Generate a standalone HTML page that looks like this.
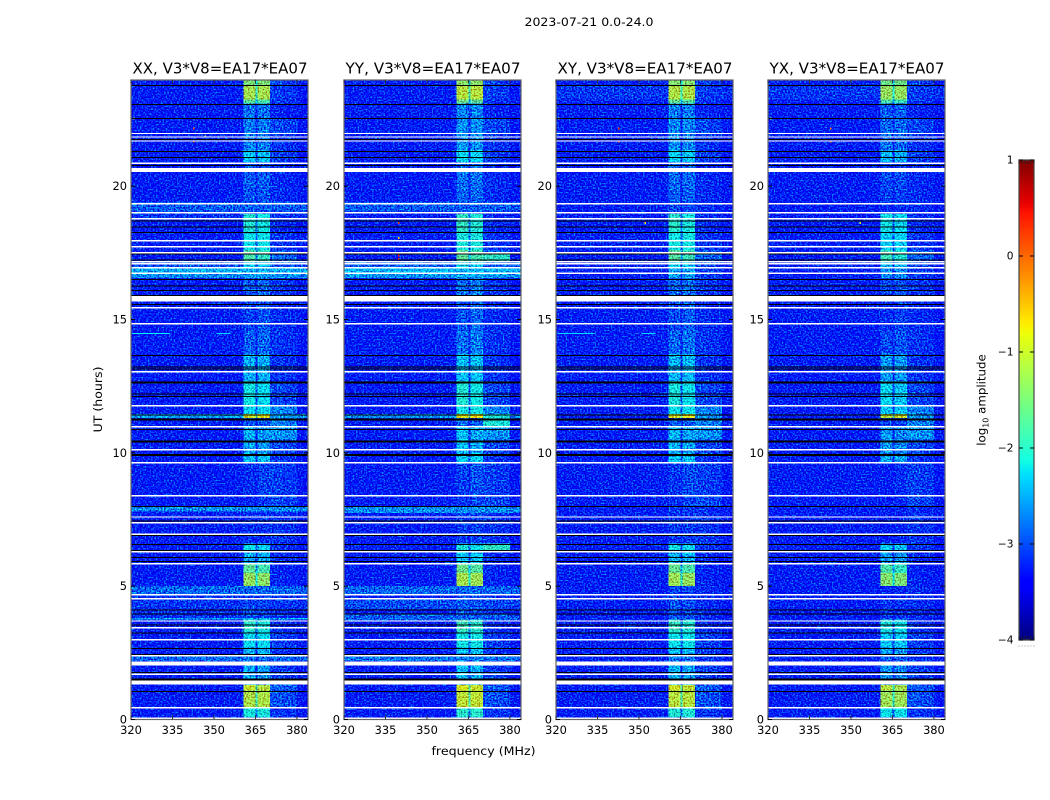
<!DOCTYPE html>
<html>
<head>
<meta charset="utf-8">
<title>2023-07-21 0.0-24.0</title>
<style>
html,body{margin:0;padding:0;background:#fff;width:1050px;height:800px;overflow:hidden}
svg{display:block}
text{font-family:"DejaVu Sans","Liberation Sans",sans-serif;fill:#000}
</style>
</head>
<body>
<svg id="figure" xmlns="http://www.w3.org/2000/svg" width="1050" height="800" viewBox="0 0 1050 800">
<defs>
<filter id="grain0" x="0" y="0" width="100%" height="100%" color-interpolation-filters="sRGB"><feTurbulence type="fractalNoise" baseFrequency="0.62 0.66" numOctaves="1" seed="3" result="n"/><feColorMatrix in="n" type="matrix" values="0.4 0 0 0 0.25  2.2 0 0 0 -0.68  0.9 0 0 0 0.05  0 0 0 0 1" result="m"/><feComposite in="SourceGraphic" in2="m" operator="arithmetic" k1="0" k2="1" k3="1" k4="-0.5"/></filter>
<filter id="grain1" x="0" y="0" width="100%" height="100%" color-interpolation-filters="sRGB"><feTurbulence type="fractalNoise" baseFrequency="0.62 0.66" numOctaves="1" seed="11" result="n"/><feColorMatrix in="n" type="matrix" values="0.4 0 0 0 0.25  2.2 0 0 0 -0.68  0.9 0 0 0 0.05  0 0 0 0 1" result="m"/><feComposite in="SourceGraphic" in2="m" operator="arithmetic" k1="0" k2="1" k3="1" k4="-0.5"/></filter>
<filter id="grain2" x="0" y="0" width="100%" height="100%" color-interpolation-filters="sRGB"><feTurbulence type="fractalNoise" baseFrequency="0.62 0.66" numOctaves="1" seed="23" result="n"/><feColorMatrix in="n" type="matrix" values="0.4 0 0 0 0.25  2.2 0 0 0 -0.68  0.9 0 0 0 0.05  0 0 0 0 1" result="m"/><feComposite in="SourceGraphic" in2="m" operator="arithmetic" k1="0" k2="1" k3="1" k4="-0.5"/></filter>
<filter id="grain3" x="0" y="0" width="100%" height="100%" color-interpolation-filters="sRGB"><feTurbulence type="fractalNoise" baseFrequency="0.62 0.66" numOctaves="1" seed="37" result="n"/><feColorMatrix in="n" type="matrix" values="0.4 0 0 0 0.25  2.2 0 0 0 -0.68  0.9 0 0 0 0.05  0 0 0 0 1" result="m"/><feComposite in="SourceGraphic" in2="m" operator="arithmetic" k1="0" k2="1" k3="1" k4="-0.5"/></filter>
</defs>
<text x="589" y="26" text-anchor="middle" font-size="11.8" textLength="129" lengthAdjust="spacingAndGlyphs">2023-07-21 0.0-24.0</text>
<text x="483.5" y="755" text-anchor="middle" font-size="11.8" textLength="104" lengthAdjust="spacingAndGlyphs">frequency (MHz)</text>
<text transform="translate(102,399.5) rotate(-90)" text-anchor="middle" font-size="11.8" textLength="66" lengthAdjust="spacingAndGlyphs">UT (hours)</text>
<text transform="translate(985.5,400) rotate(-90)" text-anchor="middle" font-size="11.8">log<tspan font-size="8" dy="3">10</tspan><tspan dy="-3"> amplitude</tspan></text>
</svg>
<script>
// Frequency columns of the heatmap (MHz)
const freqEdges = [320, 360.6, 365, 365.7, 370.2, 375, 380, 384];
// Time segments, hours, top to bottom
const hourEdges = [24,23.81,23.25,23.1,22.57,22.01,21.33,20.88,20.54,19.87,19.38,19.04,18.97,18.29,17.62,17.17,16.94,16.75,16.57,15.89,15.67,14.62,13.68,12.7,11.8,11.46,11.31,11.01,10.49,9.96,9.66,8.42,8.01,7.82,6.59,6.28,5.87,5.5,5.01,4.71,4.56,4.18,3.73,3.28,2.68,2.42,2.2,2.05,1.48,1.29,1.11,0.47,0.09,0];
// log10 amplitude of the RFI bands, one value per time segment
const rfiLow = [-1.4,-1.15,-1.6,-2.7,-2.65,-2.6,-2.25,-2.85,-2.8,-2.85,-2.95,-2.95,-1.95,-2.1,-1.7,-2.2,-2.5,-2.5,-2.8,-2.8,-2.95,-2.8,-2.4,-2.05,-2.15,-0.9,-2.85,-2.4,-2.4,-2.3,-3.05,-3.1,-3.05,-3.05,-2.1,-2.4,-1.6,-1.25,-3,-3,-2.9,-2.9,-1.9,-2.15,-2.35,-2.7,-2.7,-2.4,-2.4,-0.95,-1.1,-2,-2.5];
const rfiHigh = [-1.4,-1.15,-1.7,-2.7,-2.65,-2.65,-2.3,-2.85,-2.8,-2.85,-2.95,-2.95,-2.05,-2.1,-1.85,-2.3,-2.5,-2.5,-2.75,-2.75,-2.85,-2.75,-2.4,-2.15,-2.15,-0.8,-2.85,-2.5,-2.5,-2.3,-2.95,-3,-3.05,-3.05,-2.2,-2.4,-1.75,-1.3,-3,-3,-2.95,-2.95,-2,-2.15,-2.4,-2.75,-2.75,-2.5,-2.5,-1.05,-1.1,-2,-2.5];
const rfiOuter = [-3,-3,-3.05,-3.15,-2.95,-3.05,-3,-3.1,-3.1,-3.1,-3.1,-3.1,-3.1,-3.05,-2.8,-3,-3,-3,-3.05,-3.05,-3.1,-3.05,-3.05,-2.95,-2.65,-2.55,-2.65,-2.55,-2.95,-3.05,-3,-2.95,-3.1,-3.05,-3.05,-3.1,-3.15,-3.15,-3.1,-3.1,-3.1,-3.1,-3.1,-3,-3.05,-3.05,-3.05,-3,-3,-2.85,-2.9,-3.05,-3.15];
// Per-panel names and level offset of the RFI bands
const panelNames = ["XX", "YY", "XY", "YX"];
const panelRfiOffset = [-0.05, 0.05, 0, -0.15];
const backgroundLevel = -3.2;
// Row bands of raised background: [hour from, hour to, log10 amplitude]
const xxRowBands = [[19.38,19.04,-2.85],[19.04,18.82,-3.05],[17.17,16.94,-2.9],[16.94,16.75,-2.45],[16.75,16.57,-2.6],[11.46,11.31,-2.5],[8.01,7.82,-2.6],[5.01,4.71,-2.8],[4.71,4.18,-3.05],[4.18,3.73,-3.1],[3.79,3.73,-2.45],[2.42,2.2,-2.8]];
const yyRowBands = [[19.38,19.04,-2.85],[17.17,16.94,-2.85],[16.94,16.75,-2.4],[16.75,16.57,-2.55],[11.46,11.31,-2.6],[8.01,7.75,-2.6],[5.01,4.71,-2.8],[4.56,4.13,-2.95],[3.97,3.72,-2.85],[2.42,2.2,-2.75]];
const xyRowBands = [[23.8,23.25,-3.05]];
const yxRowBands = [[23.8,23.25,-3.05]];
// YY: stronger outer band periods [hour from, hour to, log10 amplitude]
const yyOuterBands = [[17.5,17.17,-1.9],[11.46,11.01,-2],[6.59,6.36,-1.9]];
// Isolated bright samples: [panel index, MHz, hour, log10 amplitude]
const spikes = [[0,342.4,22.2,0.1],[0,342.4,21.72,0.2],[0,346.5,21.9,-1.2],[0,320.8,22.58,-1.3],[1,339.5,18.66,0.3],[1,339.5,18.1,-0.6],[1,339.5,17.43,0.4],[1,339.5,17.3,0.3],[1,320.8,22.58,-1.3],[2,342.4,22.2,0.3],[2,342.4,21.72,0.3],[2,320.8,22.58,-1.3],[2,352,18.65,-0.6],[3,342.4,22.2,-0.2],[3,342.4,21.72,-0.2],[3,320.8,22.58,-1.3],[3,353,18.65,-1.0]];
// Short bright streaks: [panel index, MHz from, MHz to, hour, log10 amplitude]
const streaks = [[0,320.5,334,14.5,-2.2],[0,351,356,14.5,-2.3],[2,320.5,334,14.5,-2.3],[2,351,356,14.5,-2.3]];
// Flagged rows
const whiteRows = [22,21.87,21.72,20.89,19.37,18.81,17.98,17.76,17.53,17.19,17.12,16.97,15.88,15.47,14.87,13.07,11.79,11,10.14,9.65,8.41,7.62,7.4,6.97,6.31,5.86,4.7,4.55,3.72,3.46,3.01,2.41,1.72,0.46];
const whiteBlocks = [[20.69,20.54],[19.04,18.97],[16.77,16.7],[15.82,15.67],[2.18,2.03],[1.47,1.31],[0.075,0]];
const blackRows = [23.8,23.08,22.56,21.77,21.32,21.1,20.8,18.72,18.49,18.28,17.47,17.25,16.52,16.28,16.1,15.92,15.59,13.67,13.24,13.16,12.67,12.22,12.14,11.44,11.29,10.89,10.46,9.96,8,7.47,6.91,6.59,6.36,6.09,5.94,4.13,3.97,3.56,3.26,2.68,2.46,1.78,1.53,1.06];
const blackThickRows = [12.67,11.29,10.46,9.96,1.53];
// Axis ticks
const xTicks = [320,335,350,365,380];
const yTicks = [0,5,10,15,20];
const colorbarTicks = [1,0,-1,-2,-3,-4];
const panelLeft = [131,344,556,768];
const panelWidth = 177;
const panelBottom = 719.5;
const panelTop = 79.5;

const NS = "http://www.w3.org/2000/svg";
const fig = document.getElementById("figure");
function mk(tag, parent, attrs) {
  const e = document.createElementNS(NS, tag);
  for (const k in attrs) e.setAttribute(k, attrs[k]);
  parent.appendChild(e);
  return e;
}
function lerpStops(stops, t) {
  if (t <= stops[0][0]) return stops[0][1];
  for (let i = 1; i < stops.length; i++) {
    if (t <= stops[i][0]) {
      const a = stops[i-1], b = stops[i];
      return a[1] + (b[1]-a[1]) * (t-a[0]) / (b[0]-a[0]);
    }
  }
  return stops[stops.length-1][1];
}
const jetR = [[0,0],[0.35,0],[0.66,1],[0.89,1],[1,0.5]];
const jetG = [[0,0],[0.125,0],[0.375,1],[0.64,1],[0.91,0],[1,0]];
const jetB = [[0,0.5],[0.11,1],[0.34,1],[0.65,0],[1,0]];
function jet(v) {
  const t = Math.max(0, Math.min(1, (v + 4) / 5));
  const c = s => Math.round(255 * lerpStops(s, t));
  return "rgb(" + c(jetR) + "," + c(jetG) + "," + c(jetB) + ")";
}
function xScale(panel, mhz) { return panelLeft[panel] + (mhz - 320) * panelWidth / 64; }
function yScale(hour) { return panelBottom - hour * (panelBottom - panelTop) / 24; }
function segmentIndex(hour) {
  for (let i = 0; i < hourEdges.length - 1; i++) {
    if (hour <= hourEdges[i] && hour >= hourEdges[i+1]) return i;
  }
  return hourEdges.length - 2;
}
function bandLevel(list, hour, fallback) {
  let v = fallback;
  for (const b of list) if (hour <= b[0] && hour >= b[1]) v = Math.max(v, b[2]);
  return v;
}
const rowBandsByPanel = [xxRowBands, yyRowBands, xyRowBands, yxRowBands];
const outerBandsByPanel = [[], yyOuterBands, [], []];
function columnLevels(p, hour) {
  const s = segmentIndex(hour);
  const bg = bandLevel(rowBandsByPanel[p], hour, backgroundLevel);
  const off = panelRfiOffset[p];
  const a = Math.max(bg, rfiLow[s] + off);
  const b = Math.max(bg, rfiHigh[s] + off);
  const o = Math.max(bg, bandLevel(outerBandsByPanel[p], hour, rfiOuter[s]));
  const gap = Math.max(bg, Math.min(a, b) - 0.7);
  return [bg, a, gap, b, o, Math.max(bg, o - 0.05), bg - 0.05];
}

for (let p = 0; p < 4; p++) {
  const x0 = panelLeft[p];
  const panel = mk("g", fig, {});
  
  

  const cells = mk("g", panel, { filter: "url(#grain" + p + ")", "shape-rendering": "crispEdges" });
  
  

  const rows = 480;
  for (let c = 0; c < freqEdges.length - 1; c++) {
    let start = rows;
    let cur = null;
    for (let r = rows - 1; r >= -1; r--) {
      const hour = (r + 0.5) / 20;
      const v = r >= 0 ? columnLevels(p, hour)[c] : null;
      if (v !== cur) {
        if (cur !== null) {
          const top = yScale(start / 20);
          const bot = yScale((r + 1) / 20);
          const cell = mk("rect", cells, { x: xScale(p, freqEdges[c]), y: top, width: xScale(p, freqEdges[c+1]) - xScale(p, freqEdges[c]), height: bot - top, fill: jet(cur) });
          
          
        }
        cur = v;
        start = r + 1;
      }
    }
  }

  const marks = mk("g", panel, { "shape-rendering": "crispEdges" });
  
  

  for (const s of streaks) {
    if (s[0] !== p) continue;
    const streak = mk("rect", marks, { x: xScale(p, s[1]), y: yScale(s[3]), width: xScale(p, s[2]) - xScale(p, s[1]), height: 1, fill: jet(s[4]) });
    
    
  }
  for (const s of spikes) {
    if (s[0] !== p) continue;
    const spike = mk("rect", marks, { x: xScale(p, s[1]), y: yScale(s[2]), width: 1.5, height: 2, fill: jet(s[3]) });
    
    
  }
  for (const h of blackRows) {
    const thick = blackThickRows.indexOf(h) >= 0;
    const line = mk("rect", marks, { x: x0, y: yScale(h), width: panelWidth, height: thick ? 2 : 1, fill: "#000" });
    
    
  }
  for (const h of whiteRows) {
    const line = mk("rect", marks, { x: x0, y: yScale(h), width: panelWidth, height: 1.4, fill: "#fff" });
    
    
  }
  for (const b of whiteBlocks) {
    const block = mk("rect", marks, { x: x0, y: yScale(b[0]), width: panelWidth, height: yScale(b[1]) - yScale(b[0]), fill: "#fff" });
    
    
  }

  const frame = mk("rect", panel, { x: x0, y: panelTop + 0.5, width: panelWidth, height: panelBottom - panelTop - 0.5, fill: "none", stroke: "#666", "stroke-width": 1.2 });
  
  

  for (const t of xTicks) {
    const x = xScale(p, t);
    const tb = mk("line", panel, { x1: x, x2: x, y1: panelBottom, y2: panelBottom - 4, stroke: "#333", "stroke-width": 1 });
    
    
    const tt = mk("line", panel, { x1: x, x2: x, y1: panelTop, y2: panelTop + 4, stroke: "#333", "stroke-width": 1 });
    
    
    const lab = mk("text", panel, { x: x, y: 734, "text-anchor": "middle", "font-size": 11.4 });
    lab.textContent = t;
    
    
  }
  for (const t of yTicks) {
    const y = yScale(t);
    const tl = mk("line", panel, { x1: x0, x2: x0 + 4, y1: y, y2: y, stroke: "#000", "stroke-width": 1 });
    
    
    const tr = mk("line", panel, { x1: x0 + panelWidth, x2: x0 + panelWidth - 4, y1: y, y2: y, stroke: "#000", "stroke-width": 1 });
    
    
    const lab = mk("text", panel, { x: x0 - 4, y: y + 4, "text-anchor": "end", "font-size": 11.4 });
    lab.textContent = t;
    
    
  }
  const title = mk("text", panel, { x: x0 + panelWidth / 2 + 0.5, y: 73.5, "text-anchor": "middle", "font-size": 15.5, textLength: 175, lengthAdjust: "spacingAndGlyphs" });
  title.textContent = panelNames[p] + ", V3*V8=EA17*EA07";
  
  
}

// Colorbar
const cbarLeft = 1019, cbarWidth = 15, cbarTop = 160, cbarBottom = 640;
const cbarMin = colorbarTicks[colorbarTicks.length - 1];
const cbarMax = colorbarTicks[0];
function cbarY(v) { return cbarBottom - (v - cbarMin) * (cbarBottom - cbarTop) / (cbarMax - cbarMin); }
const cbar = mk("g", fig, {});


const cbarCells = mk("g", cbar, { "shape-rendering": "crispEdges" });


const cbarSteps = 240;
for (let i = 0; i < cbarSteps; i++) {
  const v0 = cbarMin + (cbarMax - cbarMin) * i / cbarSteps;
  const v1 = cbarMin + (cbarMax - cbarMin) * (i + 1) / cbarSteps;
  const seg = mk("rect", cbarCells, { x: cbarLeft, y: cbarY(v1), width: cbarWidth, height: cbarY(v0) - cbarY(v1), fill: jet((v0 + v1) / 2) });
  
  
}
const cbarFrame = mk("rect", cbar, { x: cbarLeft, y: cbarTop, width: cbarWidth, height: cbarBottom - cbarTop, fill: "none", stroke: "#444", "stroke-width": 1.2 });


for (const t of colorbarTicks) {
  const y = cbarY(t);
  const l = mk("line", cbar, { x1: cbarLeft, x2: cbarLeft + 4, y1: y, y2: y, stroke: "#000" });
  
  
  const r = mk("line", cbar, { x1: cbarLeft + cbarWidth, x2: cbarLeft + cbarWidth - 4, y1: y, y2: y, stroke: "#000" });
  
  
  const lab = mk("text", cbar, { x: 1013.5, y: y + 3.5, "text-anchor": "end", "font-size": 10.6 });
  lab.textContent = t < 0 ? "\u2212" + (-t) : String(t);
  
  
}
for (let i = 0; i <= 5; i++) {
  const x = cbarLeft + i * cbarWidth / 5;
  const tickTop = mk("line", cbar, { x1: x, x2: x, y1: cbarTop, y2: cbarTop + 4, stroke: "#222", "stroke-width": 0.8 });
  
  
  const tickBot = mk("line", cbar, { x1: x, x2: x, y1: cbarBottom, y2: cbarBottom - 4, stroke: "#222", "stroke-width": 0.8 });
  
  
  const dot = mk("rect", cbar, { x: x - 0.5, y: 645.5, width: 1, height: 1, fill: "#999" });
  
  
}
</script>
</body>
</html>
